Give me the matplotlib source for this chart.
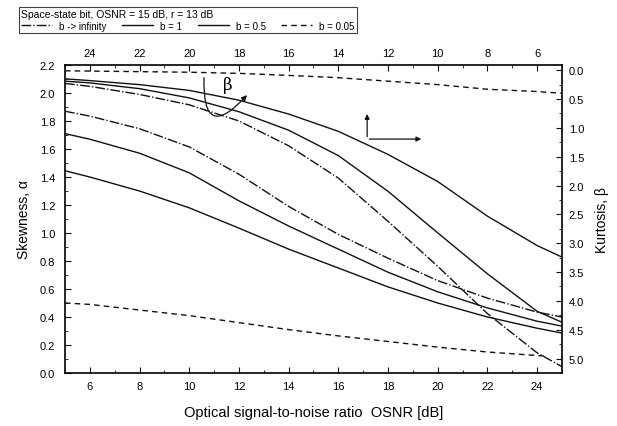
import numpy as np
import matplotlib
matplotlib.use("Agg")
import matplotlib.pyplot as plt
from matplotlib.ticker import MultipleLocator, FormatStrFormatter

plt.rcParams['font.family'] = ['Liberation Sans', 'DejaVu Sans']

# skewness curves, bottom axis (OSNR) / left axis (alpha)
osnr = [5, 6, 8, 10, 12, 14, 16, 18, 20, 22, 24, 25]
alpha_inf = [1.87, 1.835, 1.745, 1.615, 1.42, 1.19, 0.99, 0.82, 0.66, 0.535, 0.435, 0.40]
alpha_b1 = [1.71, 1.67, 1.57, 1.43, 1.23, 1.05, 0.885, 0.72, 0.58, 0.465, 0.37, 0.335]
alpha_b05 = [1.445, 1.40, 1.30, 1.18, 1.035, 0.885, 0.75, 0.615, 0.50, 0.40, 0.32, 0.285]
osnr_a005 = [5, 6, 8, 10, 12, 14, 16, 18, 20, 22, 24, 24.4]
alpha_b005 = [0.50, 0.49, 0.45, 0.41, 0.36, 0.31, 0.265, 0.225, 0.185, 0.15, 0.125, 0.12]

# kurtosis curves, top axis (OSNR, reversed) / right axis (beta, reversed)
osnr_top = [25, 24, 22, 20, 18, 16, 14, 12, 10, 8, 6, 5]
beta_inf = [0.23, 0.28, 0.42, 0.60, 0.88, 1.31, 1.87, 2.62, 3.40, 4.22, 4.90, 5.14]
beta_b1 = [0.19, 0.22, 0.32, 0.48, 0.72, 1.04, 1.48, 2.10, 2.82, 3.53, 4.18, 4.37]
beta_b05 = [0.15, 0.18, 0.25, 0.35, 0.52, 0.76, 1.06, 1.46, 1.93, 2.53, 3.04, 3.24]
beta_b005 = [0.01, 0.015, 0.025, 0.035, 0.055, 0.09, 0.13, 0.19, 0.25, 0.33, 0.37, 0.40]

labels = ["b -> infinity", "b = 1", "b = 0.5", "b = 0.05"]
styles = [(0, (7, 1.5, 1, 1.5)), '-', '-', (0, (4, 3))]
col = '#111111'

fig = plt.figure(figsize=(6.17, 4.27), dpi=100)
ax = fig.add_axes([0.1053, 0.1241, 0.8055, 0.7213])
ax2 = fig.add_axes(ax.get_position(), frameon=False)

handles = []
for ys, xs, ls, lab in zip([alpha_inf, alpha_b1, alpha_b05, alpha_b005],
                           [osnr, osnr, osnr, osnr_a005], styles, labels):
    h, = ax.plot(xs, ys, color=col, lw=1.0, linestyle=ls, label=lab)
    handles.append(h)

for ys, ls in zip([beta_inf, beta_b1, beta_b05, beta_b005], styles):
    ax2.plot(osnr_top, ys, color=col, lw=1.0, linestyle=ls)

ax.set_xlim(5, 25)
ax.set_ylim(0, 2.2)
ax2.set_xlim(25, 5)
ax2.set_ylim(5.25, -0.09)

ax.xaxis.set_major_locator(MultipleLocator(2))
ax.xaxis.set_minor_locator(MultipleLocator(1))
ax.yaxis.set_major_locator(MultipleLocator(0.2))
ax.yaxis.set_minor_locator(MultipleLocator(0.1))
ax.yaxis.set_major_formatter(FormatStrFormatter('%.1f'))
ax.set_xticks(np.arange(6, 25, 2))

ax2.xaxis.tick_top()
ax2.yaxis.tick_right()
ax2.xaxis.set_label_position('top')
ax2.yaxis.set_label_position('right')
ax2.set_xticks(np.arange(24, 5, -2))
ax2.xaxis.set_minor_locator(MultipleLocator(1))
ax2.yaxis.set_major_locator(MultipleLocator(0.5))
ax2.yaxis.set_minor_locator(MultipleLocator(0.25))
ax2.yaxis.set_major_formatter(FormatStrFormatter('%.1f'))

for a in (ax, ax2):
    a.tick_params(which='both', direction='in', labelsize=8, color=col)
    a.tick_params(which='major', length=4)
    a.tick_params(which='minor', length=2)
ax.tick_params(top=False, right=False, pad=6)
ax.tick_params(axis='y', pad=7)
ax2.tick_params(bottom=False, left=False, pad=5)
for s in ax.spines.values():
    s.set_linewidth(1.2)

ax.set_xlabel("Optical signal-to-noise ratio  OSNR [dB]", fontsize=10.5, labelpad=10)
ax.set_ylabel("Skewness, \u03b1", fontsize=10, labelpad=6)
ax2.set_ylabel("Kurtosis, \u03b2", fontsize=10, labelpad=8)

# curved beta arrow and L-shaped axis arrows
ax.annotate("", xy=(12.4, 2.0), xytext=(10.6, 2.13),
            arrowprops=dict(arrowstyle="-|>", color=col, lw=0.9, mutation_scale=8,
                            connectionstyle="arc3,rad=1.4"))
ax.text(11.55, 2.06, "\u03b2", fontsize=12, family='DejaVu Serif', ha='center', va='center')
ax.annotate("", xy=(17.16, 1.87), xytext=(17.16, 1.668),
            arrowprops=dict(arrowstyle="-|>", color=col, lw=0.9, mutation_scale=7))
ax.annotate("", xy=(19.45, 1.671), xytext=(17.14, 1.671),
            arrowprops=dict(arrowstyle="-|>", color=col, lw=0.9, mutation_scale=7))

leg = fig.legend(handles=handles, ncol=4, loc='upper left',
                 bbox_to_anchor=(14 / 617, 1 - 3 / 427),
                 title="Space-state bit, OSNR = 15 dB, r = 13 dB",
                 fontsize=7, title_fontsize=7.5, frameon=True, fancybox=False,
                 edgecolor=col, handlelength=3.2, handletextpad=0.7,
                 columnspacing=1.6, borderpad=0.25, labelspacing=0.15)
leg._legend_box.align = "left"
leg.get_frame().set_linewidth(0.8)

fig.savefig("out.png", dpi=100)
